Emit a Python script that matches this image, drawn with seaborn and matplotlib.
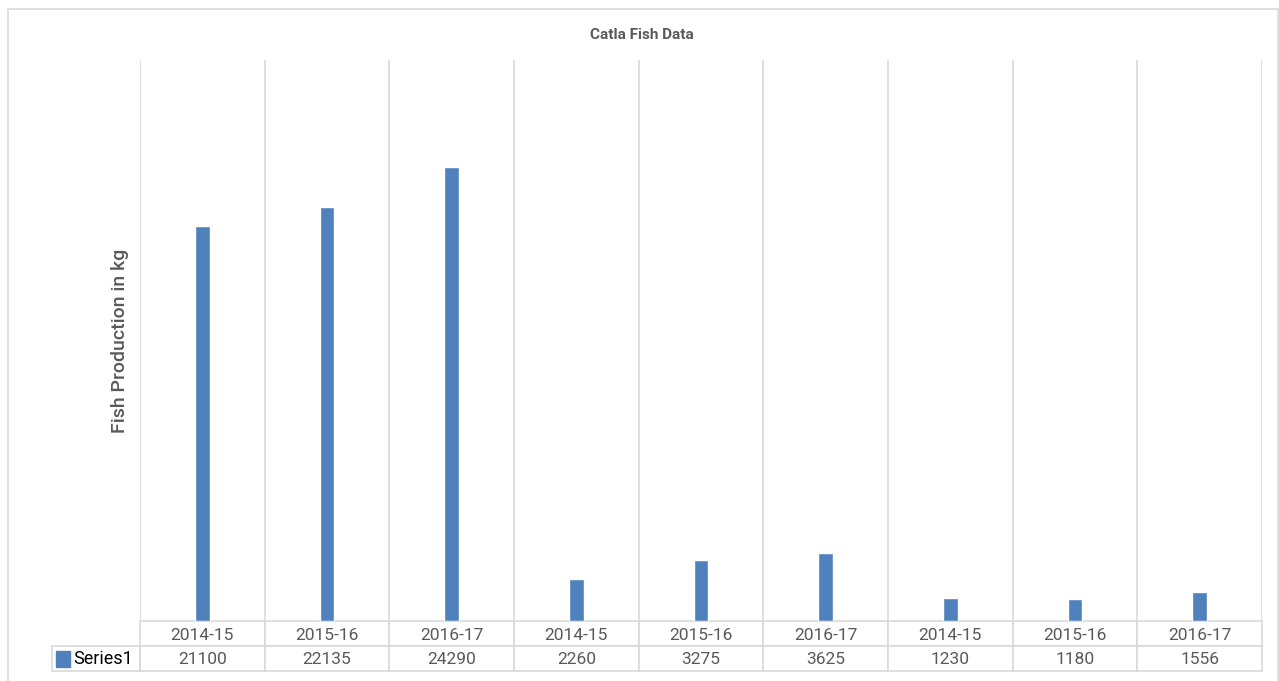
import numpy as np
import pandas as pd
import matplotlib
matplotlib.use("Agg")
import matplotlib.pyplot as plt
import seaborn as sns
from matplotlib.patches import Rectangle

# dati
years = ["2014-15", "2015-16", "2016-17", "2014-15", "2015-16", "2016-17",
         "2014-15", "2015-16", "2016-17"]
production = [21100, 22135, 24290, 2260, 3275, 3625, 1230, 1180, 1556]
series_name = "Series1"

bar_color = "#4f81bd"
grid_color = "#d9d9d9"
text_color = "#595959"

sns.set_style("white")
plt.rcParams["font.family"] = ["Roboto", "DejaVu Sans"]

df = pd.DataFrame({"pos": [str(i) for i in range(len(years))], "kg": production})

W, H = 1279, 681
fig = plt.figure(figsize=(W / 100, H / 100), dpi=100)

# bordo esterno del grafico
fig.patches.append(Rectangle((8 / W, -0.05), 1270 / W, 1.05 - 9 / H,
                             transform=fig.transFigure, fill=False,
                             edgecolor=grid_color, linewidth=1.2))

left, right, top, bottom = 140, 1262, 60, 621
ax = fig.add_axes([left / W, 1 - bottom / H, (right - left) / W, (bottom - top) / H])

sns.barplot(data=df, x="pos", y="kg", color=bar_color, width=0.115,
            saturation=1, ax=ax)
ax.set_xlim(-0.5, len(years) - 0.5)
ax.set_ylim(0, 30000)
ax.set_xticks([])
ax.set_yticks([])
ax.set_xlabel("")
ax.set_ylabel("")
for s in ax.spines.values():
    s.set_visible(False)
for x in np.arange(-0.5, len(years), 1):
    ax.axvline(x, color=grid_color, linewidth=1.2, zorder=0)

# tabella dati sotto il grafico
row_h = 25
tab = ax.table(cellText=[[str(v) for v in production]],
               colLabels=years,
               cellLoc="center",
               bbox=[0, -2 * row_h / (bottom - top), 1, 2 * row_h / (bottom - top)])
tab.auto_set_font_size(False)
for (r, c), cell in tab.get_celld().items():
    cell.set_edgecolor(grid_color)
    cell.set_linewidth(1.2)
    cell.get_text().set_color(text_color)
    cell.get_text().set_fontsize(12.5)
    cell.get_text().set_va("center_baseline")

# cella con la legenda
leg_left = 52
fig.patches.append(Rectangle((leg_left / W, 1 - (bottom + 2 * row_h) / H),
                             (left - leg_left) / W, row_h / H,
                             transform=fig.transFigure, fill=False,
                             edgecolor=grid_color, linewidth=1.2))
fig.patches.append(Rectangle((56 / W, 1 - 667 / H), 14 / W, 16 / H,
                             transform=fig.transFigure, color=bar_color))
fig.text(73 / W, 1 - 659 / H, series_name, fontsize=13, color="black",
         va="center", ha="left")

fig.text(642 / W, 1 - 35 / H, "Catla Fish Data", fontsize=11,
         color=text_color, ha="center", va="center", fontweight="bold")
fig.text(120 / W, 1 - 341 / H, "Fish Production in kg", fontsize=14,
         color=text_color, rotation=90, ha="center", va="center",
         fontweight="medium")

fig.savefig("out.png", dpi=100)
